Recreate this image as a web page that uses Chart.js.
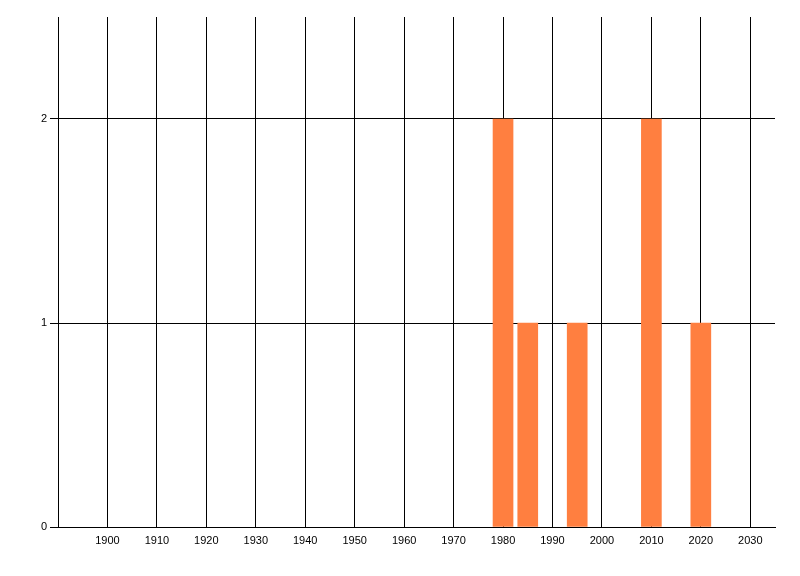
<!DOCTYPE html>
<html lang="en">
<head>
    <meta charset="UTF-8">
    <title>Chart</title>
    <script src="https://cdn.jsdelivr.net/npm/chart.js@4.4.1/dist/chart.umd.min.js"></script>
    <style>
        html, body { margin: 0; padding: 0; background: #fff; }
        #wrap { width: 800px; height: 576px; }
    </style>
</head>
<body>
    <div id="wrap"><canvas id="chart"></canvas></div>
    <script>
        var years = [1980, 1985, 1995, 2010, 2020];
        var counts = [2, 1, 1, 2, 1];
        var xTicks = [1900, 1910, 1920, 1930, 1940, 1950, 1960, 1970, 1980, 1990, 2000, 2010, 2020, 2030];
        var yTicks = [0, 1, 2];

        var points = years.map((y, i) => ({ x: y, y: counts[i] }));

        const ctx = document.getElementById('chart').getContext('2d');
        new Chart(ctx, {
            type: 'bar',
            data: {
                datasets: [{
                    data: points,
                    backgroundColor: 'rgb(255, 127, 64)',
                    borderWidth: 0,
                    barThickness: 20
                }]
            },
            options: {
                responsive: true,
                maintainAspectRatio: false,
                animation: false,
                layout: { padding: { top: 17, right: 25, left: 0, bottom: 0 } },
                plugins: { legend: { display: false }, tooltip: { enabled: false } },
                scales: {
                    x: {
                        type: 'linear',
                        min: 1890,
                        max: 2035,
                        offset: false,
                        afterBuildTicks: s => { s.ticks = xTicks.map(v => ({ value: v })); },
                        afterFit: s => { s.height = 49; },
                        grid: { color: '#000', lineWidth: 1, drawTicks: false, offset: false },
                        border: { color: '#000', width: 1 },
                        ticks: {
                            color: '#000',
                            padding: 7,
                            maxRotation: 0,
                            autoSkip: false,
                            callback: v => String(v),
                            font: { family: 'Liberation Sans', size: 11 }
                        }
                    },
                    y: {
                        min: 0,
                        max: 2.5,
                        afterBuildTicks: s => { s.ticks = yTicks.map(v => ({ value: v })); },
                        afterFit: s => { s.width = 58; },
                        grid: { color: '#000', lineWidth: 1, tickLength: 8 },
                        border: { color: '#000', width: 1 },
                        ticks: {
                            color: '#000',
                            padding: 3,
                            callback: v => String(v),
                            font: { family: 'Liberation Sans', size: 11 }
                        }
                    }
                }
            }
        });
    </script>
</body>
</html>
